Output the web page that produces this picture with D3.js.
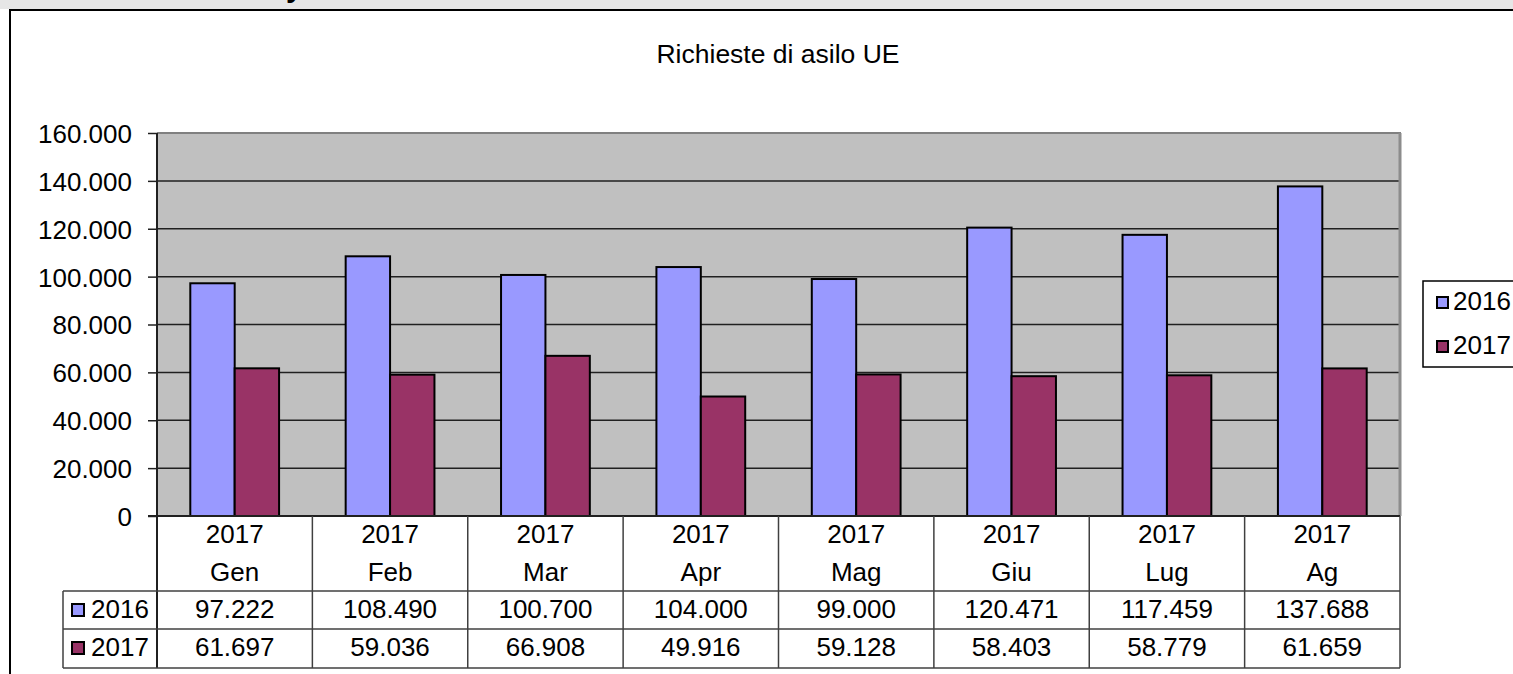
<!DOCTYPE html>
<html>
<head>
<meta charset="utf-8">
<script src="https://cdn.jsdelivr.net/npm/d3@7"></script>
<style>
  html, body { margin: 0; padding: 0; background: #fff; overflow: hidden; }
  svg { display: block; font-family: "Liberation Sans", Arial, sans-serif; }
</style>
</head>
<body>
<div id="chart"></div>
<script>
// data
var MONTHS   = ["Gen", "Feb", "Mar", "Apr", "Mag", "Giu", "Lug", "Ag"];
var YEAR_ROW = "2017";
var SERIES   = ["2016", "2017"];
var VAL_2016 = [97222, 108490, 100700, 104000, 99000, 120471, 117459, 137688];
var VAL_2017 = [61697, 59036, 66908, 49916, 59128, 58403, 58779, 61659];
var Y_TICKS  = [0, 20000, 40000, 60000, 80000, 100000, 120000, 140000, 160000];
var COLORS   = { "2016": "#9999ff", "2017": "#993366" };
var TITLE    = "Richieste di asilo UE";

(function () {
    var W = 1513, H = 674;
    var FS = 26; // font size used all over the chart
    var plot = { left: 157, right: 1400, top: 133, bottom: 516 };
    var rowH = [591, 629, 668]; // table row boundaries under the header
    var tableLeft = 63;

    var it = d3.formatLocale({ decimal: ",", thousands: ".", grouping: [3], currency: ["", "€"] });
    var fmt = it.format(",.0f");

    var values = { "2016": VAL_2016, "2017": VAL_2017 };

    var svg = d3.select("#chart").append("svg")
        .attr("width", W).attr("height", H);

    // page band + chart frame
    svg.append("rect").attr("x", 0).attr("y", 0).attr("width", W).attr("height", 9)
        .attr("fill", "#e6e6e6");
    // descender of the page heading that sits just above the picture
    svg.append("text")
        .attr("x", 286).attr("y", -3)
        .attr("font-size", 30).attr("font-weight", "bold")
        .text("y");
    svg.append("rect")
        .attr("x", 10).attr("y", 10).attr("width", W + 20).attr("height", H + 20)
        .attr("fill", "#fff").attr("stroke", "#000").attr("stroke-width", 2);

    // title
    svg.append("text")
        .attr("x", 778).attr("y", 63)
        .attr("text-anchor", "middle")
        .attr("font-size", FS + 0.5)
        .text(TITLE);

    // scales
    var x = d3.scaleBand().domain(MONTHS).range([plot.left, plot.right]);
    var xs = d3.scaleBand().domain(SERIES).range([0, x.bandwidth()])
        .paddingInner(0).paddingOuter(0.75);
    var y = d3.scaleLinear().domain([0, 160000]).range([plot.bottom, plot.top]);

    // plot area
    svg.append("rect")
        .attr("x", plot.left).attr("y", plot.top)
        .attr("width", plot.right - plot.left).attr("height", plot.bottom - plot.top)
        .attr("fill", "#c0c0c0");

    // gridlines
    svg.append("g").selectAll("line")
        .data(Y_TICKS.slice(1, -1))
        .enter().append("line")
        .attr("x1", plot.left).attr("x2", plot.right)
        .attr("y1", function (d) { return y(d); })
        .attr("y2", function (d) { return y(d); })
        .attr("stroke", "#202020").attr("stroke-width", 1.5);

    // plot border top/right
    svg.append("line")
        .attr("x1", plot.left).attr("x2", plot.right + 1)
        .attr("y1", plot.top).attr("y2", plot.top)
        .attr("stroke", "#808080").attr("stroke-width", 2);
    svg.append("line")
        .attr("x1", plot.right).attr("x2", plot.right)
        .attr("y1", plot.top).attr("y2", plot.bottom)
        .attr("stroke", "#8c8c8c").attr("stroke-width", 3);

    // bars
    var groups = svg.append("g").selectAll("g")
        .data(MONTHS)
        .enter().append("g")
        .attr("transform", function (d) { return "translate(" + x(d) + ",0)"; });

    groups.selectAll("rect")
        .data(function (d, i) {
            return SERIES.map(function (s) { return { s: s, v: values[s][i] }; });
        })
        .enter().append("rect")
        .attr("x", function (d) { return xs(d.s); })
        .attr("y", function (d) { return y(d.v); })
        .attr("width", xs.bandwidth())
        .attr("height", function (d) { return y(0) - y(d.v); })
        .attr("fill", function (d) { return COLORS[d.s]; })
        .attr("stroke", "#000").attr("stroke-width", 2);

    // y axis
    var yAxis = svg.append("g")
        .attr("transform", "translate(" + plot.left + ",0)")
        .call(d3.axisLeft(y).tickValues(Y_TICKS).tickSize(9).tickPadding(16)
            .tickFormat(function (v) { return fmt(v); }));
    yAxis.select(".domain").remove();
    yAxis.selectAll(".tick line").attr("stroke", "#202020").attr("stroke-width", 1.5);
    yAxis.selectAll(".tick text")
        .attr("font-size", FS).attr("fill", "#000")
        .attr("font-family", "'Liberation Sans', Arial, sans-serif")
        .attr("dy", "0.36em");

    svg.append("line")
        .attr("x1", plot.left).attr("x2", plot.left)
        .attr("y1", plot.top).attr("y2", rowH[2])
        .attr("stroke", "#202020").attr("stroke-width", 2);

    // data table
    var table = svg.append("g").attr("stroke", "#404040").attr("stroke-width", 1.5);
    table.append("line")
        .attr("x1", plot.left - 9).attr("x2", plot.right)
        .attr("y1", plot.bottom).attr("y2", plot.bottom)
        .attr("stroke", "#202020").attr("stroke-width", 2);
    rowH.forEach(function (r) {
        table.append("line")
            .attr("x1", tableLeft).attr("x2", plot.right)
            .attr("y1", r).attr("y2", r);
    });
    table.append("line")
        .attr("x1", tableLeft).attr("x2", tableLeft)
        .attr("y1", rowH[0]).attr("y2", rowH[2]);
    table.selectAll(".col-line")
        .data(MONTHS)
        .enter().append("line")
        .attr("class", "col-line")
        .attr("x1", function (d) { return x(d) + x.bandwidth(); })
        .attr("x2", function (d) { return x(d) + x.bandwidth(); })
        .attr("y1", plot.bottom).attr("y2", rowH[2]);

    // header cells
    var header = svg.append("g").attr("font-size", FS).attr("text-anchor", "middle");
    MONTHS.forEach(function (m) {
        var cx = x(m) + x.bandwidth() / 2;
        header.append("text").attr("x", cx).attr("y", 543).text(YEAR_ROW);
        header.append("text").attr("x", cx).attr("y", 581).text(m);
    });

    // data rows
    SERIES.forEach(function (s, r) {
        var base = rowH[r] + 27;
        var g = svg.append("g").attr("font-size", FS);
        g.append("rect")
            .attr("x", 72).attr("y", base - 14)
            .attr("width", 12).attr("height", 12)
            .attr("fill", COLORS[s]).attr("stroke", "#000").attr("stroke-width", 2);
        g.append("text").attr("x", 91).attr("y", base).text(s);
        values[s].forEach(function (v, i) {
            g.append("text")
                .attr("x", x(MONTHS[i]) + x.bandwidth() / 2).attr("y", base)
                .attr("text-anchor", "middle")
                .text(fmt(v));
        });
    });

    // legend
    var legend = svg.append("g").attr("font-size", FS);
    legend.append("rect")
        .attr("x", 1423).attr("y", 281).attr("width", 120).attr("height", 86)
        .attr("fill", "#fff").attr("stroke", "#000").attr("stroke-width", 1.5);
    SERIES.forEach(function (s, i) {
        var ly = 310 + i * 44;
        legend.append("rect")
            .attr("x", 1437).attr("y", ly - 13)
            .attr("width", 11).attr("height", 11)
            .attr("fill", COLORS[s]).attr("stroke", "#000").attr("stroke-width", 2);
        legend.append("text").attr("x", 1453).attr("y", ly).text(s);
    });
}());
</script>
</body>
</html>
